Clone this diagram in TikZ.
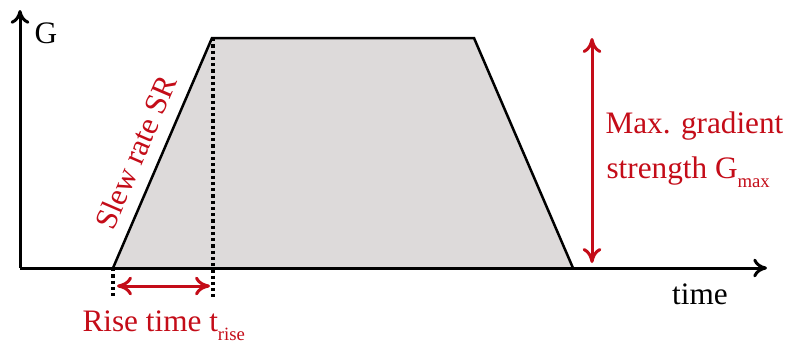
\documentclass[tikz,border=0pt]{standalone}
\usepackage{fontspec}
\setmainfont{Liberation Serif}
\usetikzlibrary{arrows.meta}
\definecolor{myred}{RGB}{196,12,24}
\definecolor{myfill}{RGB}{221,218,218}
\tikzset{
  axis/.style={line width=1.2pt,-{To[length=5.5pt,width=7.5pt]}},
  trap/.style={line width=1pt,line join=miter},
  dots/.style={line width=1.4pt,dash pattern=on 1.3pt off 1.2pt},
  redarrow/.style={line width=1.2pt,myred,{To[length=6pt,width=7.5pt]}-{To[length=6pt,width=7.5pt]}},
  lbl/.style={inner sep=0pt,font=\fontsize{12.5}{15}\selectfont},
  redlbl/.style={lbl,text=myred},
}
\newcommand{\sub}[1]{\raisebox{-3.8pt}{\fontsize{7.5}{9}\selectfont #1}}
\begin{document}
\begin{tikzpicture}[x=0.4pt,y=-0.4pt]
\useasboundingbox (0,0) rectangle (788,343);
\coordinate (O) at (20,268);
\coordinate (Ytop) at (20,10);
\coordinate (Xend) at (767,268);
\coordinate (A) at (113,268);
\coordinate (B) at (212,38);
\coordinate (C) at (474,38);
\coordinate (D) at (573,268);
\coordinate (Ad) at (113,297);
\coordinate (Bd) at (213,297);
\coordinate (R1) at (117,286);
\coordinate (R2) at (210,286);
\coordinate (M1) at (592,38);
\coordinate (M2) at (592,263);
\fill[myfill] (A) -- (B) -- (C) -- (D) -- cycle;
\draw[trap] (A) -- (B) -- (C) -- (D);
\draw[dots] (A) -- (Ad);
\draw[dots] (B) ++(1,0) -- (Bd);
\draw[axis] (O) -- (Ytop);
\draw[axis] (O) -- (Xend);
\draw[redarrow] (R1) -- (R2);
\draw[redarrow] (M1) -- (M2);
\node[lbl] (g) at (46,33) {G};
\node[lbl] (time) at (700,294) {time};
\node[redlbl,anchor=base west] (rise) at (82,331) {Rise time t\sub{rise}};
\node[redlbl,anchor=base west] (max1) at (605,133) {Max. gradient};
\node[redlbl,anchor=base west] (max2) at (606,178) {strength G\sub{max}};
\node[redlbl,rotate=66.7] (slew) at (136,152) {Slew rate SR};
\end{tikzpicture}
\end{document}
